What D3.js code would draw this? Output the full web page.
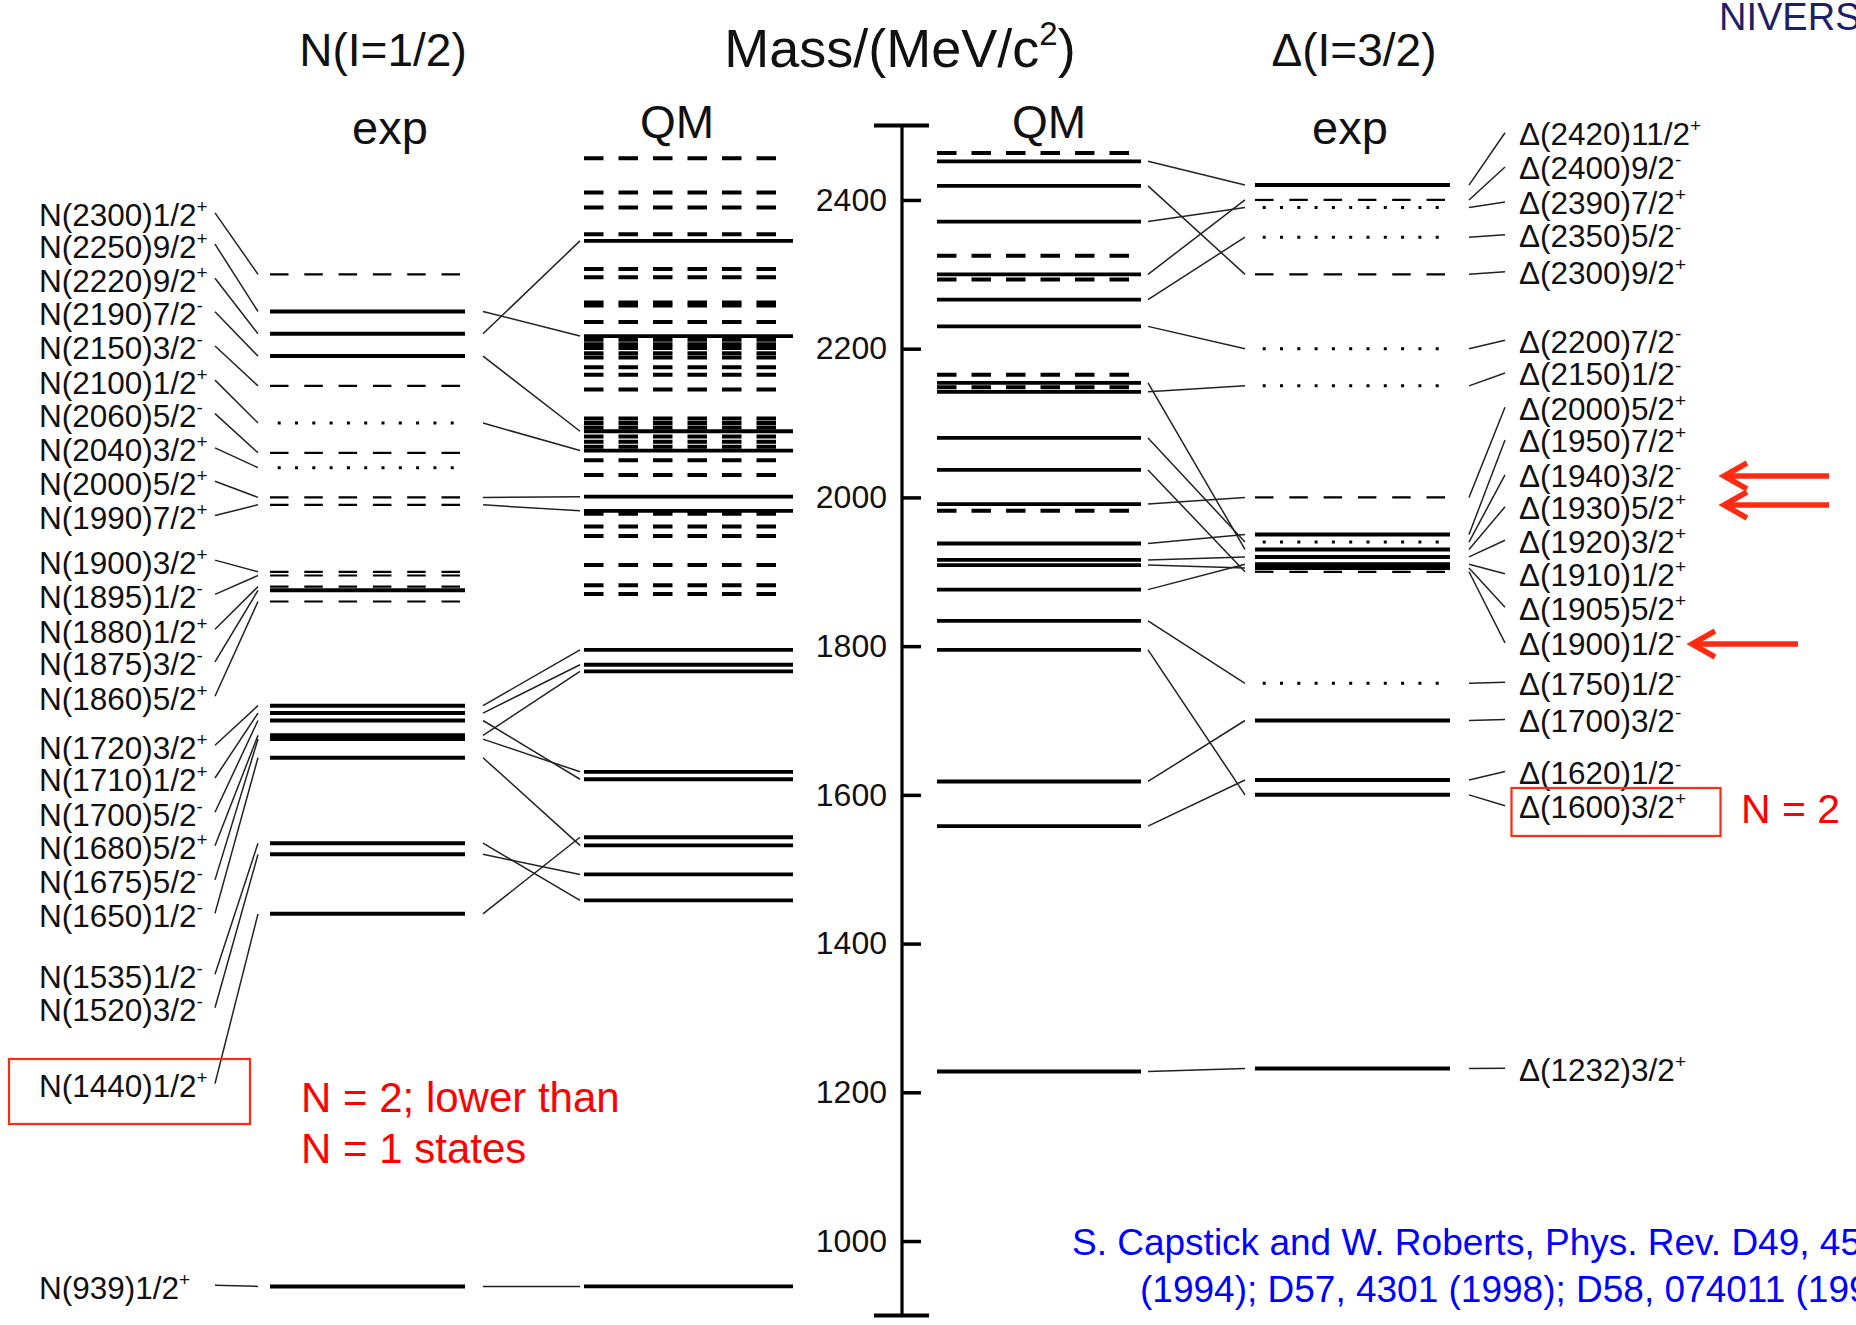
<!DOCTYPE html>
<html>
<head>
<meta charset="utf-8">
<script src="https://cdn.jsdelivr.net/npm/d3@7"></script>
<style>
  html, body { margin: 0; padding: 0; background: #fff; overflow: hidden; }
  svg { display: block; }
  text { font-family: "Liberation Sans", Arial, Helvetica, sans-serif; }
</style>
</head>
<body>
<svg id="chart" width="1856" height="1325"></svg>
<script>
// ---------------- data ----------------
// Nucleon (I=1/2): measured states, J^P, star rating, and the quark-model state each is matched to
const nExpMass  = [2300, 2250, 2220, 2190, 2150, 2100, 2060, 2040, 2000, 1990,
                   1900, 1895, 1880, 1875, 1860, 1720, 1710, 1700, 1680, 1675,
                   1650, 1535, 1520, 1440, 939];
const nExpJP    = ["1/2+", "9/2+", "9/2+", "7/2-", "3/2-", "1/2+", "5/2-", "3/2+", "5/2+", "7/2+",
                   "3/2+", "1/2-", "1/2+", "3/2-", "5/2+", "3/2+", "1/2+", "5/2-", "5/2+", "5/2-",
                   "1/2-", "1/2-", "3/2-", "1/2+", "1/2+"];
const nExpStars = [2, 4, 4, 4, 2, 1, 2, 1, 2, 2,
                   2, 2, 2, 3, 2, 4, 3, 3, 4, 4,
                   4, 4, 4, 4, 4];
const nExpQM    = [null, 2217, 2345, 2089, null, 2063, null, null, 2001, 1982,
                   null, null, null, null, null, 1795, 1775, 1621, 1766, 1631,
                   1532, 1458, 1493, 1543, 939];
// Nucleon quark-model spectrum (Capstick & Roberts)
const nQM = [2456, 2410, 2390, 2354, 2345, 2307, 2296, 2262, 2258, 2236,
             2217, 2212, 2206, 2201, 2194, 2188, 2175, 2165, 2145, 2106,
             2100, 2094, 2089, 2082, 2075, 2068, 2063, 2050, 2030, 2001,
             1982, 1978, 1961, 1948, 1909, 1882, 1870, 1795, 1775, 1766,
             1631, 1621, 1543, 1532, 1493, 1458, 939];

// Delta (I=3/2): measured states, J^P, star rating, matched quark-model state
const dExpMass  = [2420, 2400, 2390, 2350, 2300, 2200, 2150, 2000, 1950, 1940,
                   1930, 1920, 1910, 1905, 1900, 1750, 1700, 1620, 1600, 1232];
const dExpJP    = ["11/2+", "9/2-", "7/2+", "5/2-", "9/2+", "7/2-", "1/2-", "5/2+", "7/2+", "3/2-",
                   "5/2+", "3/2+", "1/2+", "5/2+", "1/2-", "1/2-", "3/2-", "1/2-", "3/2+", "3/2+"];
const dExpStars = [4, 2, 1, 1, 2, 1, 1, 2, 4, 1,
                   3, 3, 4, 4, 2, 1, 4, 4, 3, 4];
const dExpQM    = [2452, 2300, 2371, 2266, 2419, 2230, 2142, 1991, 1938, 2080,
                   2154, 1916, 1876, 1909, 2037, 1834, 1618, 1558, 1795, 1228];
// Delta quark-model spectrum
const dQM = [2463, 2452, 2419, 2371, 2325, 2300, 2293, 2266, 2230, 2165,
             2154, 2148, 2142, 2080, 2037, 1991, 1982, 1938, 1916, 1909,
             1876, 1834, 1795, 1618, 1558, 1228];

// mass axis
const massDomain = [900, 2500];
const massTicks  = [1000, 1200, 1400, 1600, 1800, 2000, 2200, 2400];

// ---------------- layout ----------------
// where each name label sits along the mass axis (labels are spread to stay readable)
const nLabelAt = [2380, 2338, 2292, 2247, 2201, 2155, 2110, 2064, 2019, 1973,
                  1913, 1867, 1820, 1776, 1730, 1664, 1620, 1574, 1529, 1483,
                  1438, 1356, 1311, 1209, 938];
const dLabelAt = [2489, 2443, 2396, 2352, 2302, 2210, 2166, 2120, 2076, 2029,
                  1986, 1941, 1896, 1851, 1803, 1750, 1700, 1630, 1584, 1231];

const col = {
  nLabelX: 39, nLinkL: [215, 258], nExp: [270, 465], nJoin: [483, 580], nQM: [584, 793],
  axisX: 902,
  dQM: [937, 1141], dJoin: [1148, 1245], dExp: [1255, 1450], dLinkR: [1469, 1505], dLabelX: 1519
};

const svg = d3.select("#chart");
const y = d3.scaleLinear().domain(massDomain).range([1315.4, 125.6]);

const ink = "#111";
const linkInk = "#222";

function expStyle(sel, stars) {
  if (stars >= 3) {
    sel.attr("stroke-width", 4);
  } else if (stars === 2) {
    sel.attr("stroke-width", 2.2).attr("stroke-dasharray", "18.5 15.8");
  } else {
    sel.attr("stroke-width", 3).attr("stroke-dasharray", "3 14.3").attr("stroke-dashoffset", 9.6);
  }
}

// ---------- experimental levels ----------
function drawExp(masses, stars, xr) {
  svg.append("g").selectAll("line").data(masses).join("line")
    .attr("x1", xr[0]).attr("x2", xr[1])
    .attr("y1", d => y(d)).attr("y2", d => y(d))
    .attr("stroke", "#000")
    .each(function (d, i) { expStyle(d3.select(this), stars[i]); });
}
drawExp(nExpMass, nExpStars, col.nExp);
drawExp(dExpMass, dExpStars, col.dExp);

// ---------- quark-model levels (matched = solid, unmatched = dashed) ----------
function drawQM(masses, matched, xr) {
  const set = new Set(matched.filter(v => v !== null));
  const gq = svg.append("g");
  // dashed (unobserved) first, solid on top
  gq.selectAll("line.miss").data(masses.filter(m => !set.has(m))).join("line")
    .attr("class", "miss")
    .attr("x1", xr[0]).attr("x2", xr[0] + 193)
    .attr("y1", d => y(d)).attr("y2", d => y(d))
    .attr("stroke", "#000").attr("stroke-width", 4)
    .attr("stroke-dasharray", "19.5 15");
  gq.selectAll("line.hit").data(masses.filter(m => set.has(m))).join("line")
    .attr("class", "hit")
    .attr("x1", xr[0]).attr("x2", xr[1])
    .attr("y1", d => y(d)).attr("y2", d => y(d))
    .attr("stroke", "#000").attr("stroke-width", 3.8);
}
drawQM(nQM, nExpQM, col.nQM);
drawQM(dQM, dExpQM, col.dQM);

// ---------- links between measured and quark-model states ----------
function drawJoins(expM, qmM, xr, expOnLeft) {
  const pairs = expM.map((m, i) => [m, qmM[i]]).filter(p => p[1] !== null);
  svg.append("g").selectAll("line").data(pairs).join("line")
    .attr("x1", xr[0]).attr("x2", xr[1])
    .attr("y1", p => y(expOnLeft ? p[0] : p[1]))
    .attr("y2", p => y(expOnLeft ? p[1] : p[0]))
    .attr("stroke", linkInk).attr("stroke-width", 1.5);
}
drawJoins(nExpMass, nExpQM, col.nJoin, true);
drawJoins(dExpMass, dExpQM, col.dJoin, false);

// ---------- name labels with leader lines ----------
function drawNames(prefix, masses, jps, at, labelX, linkX, labelOnLeft) {
  const gl = svg.append("g");
  gl.selectAll("line").data(masses).join("line")
    .attr("x1", linkX[0]).attr("x2", linkX[1])
    .attr("y1", (d, i) => labelOnLeft ? y(at[i]) - 2 : y(d))
    .attr("y2", (d, i) => labelOnLeft ? y(d) : y(at[i]) - 1)
    .attr("stroke", linkInk).attr("stroke-width", 1.5);
  const t = gl.selectAll("text").data(masses).join("text")
    .attr("x", labelX)
    .attr("y", (d, i) => y(at[i]) + 11.5)
    .attr("font-size", 31.5)
    .attr("fill", ink);
  t.each(function (d, i) {
    const jp = jps[i];
    const s = d3.select(this);
    s.append("tspan").text(prefix + "(" + d + ")" + jp.slice(0, -1));
    s.append("tspan").attr("dy", -13).attr("font-size", 19).text(jp.slice(-1));
  });
}
drawNames("N", nExpMass, nExpJP, nLabelAt, col.nLabelX, col.nLinkL, true);
drawNames("\u0394", dExpMass, dExpJP, dLabelAt, col.dLabelX, col.dLinkR, false);

// ---------- mass axis ----------
const axis = d3.axisLeft(y).tickValues(massTicks).tickSizeInner(-19).tickSizeOuter(0).tickPadding(15)
  .tickFormat(d3.format("d"));
const ga = svg.append("g").attr("transform", `translate(${col.axisX},0)`).call(axis);
ga.select(".domain").remove();
ga.selectAll(".tick line").attr("stroke", "#000").attr("stroke-width", 3.5);
ga.selectAll(".tick text").attr("font-size", 32).attr("fill", ink)
  .attr("font-family", "Liberation Sans, Arial, sans-serif");
ga.append("line").attr("x1", 0).attr("x2", 0).attr("y1", y(massDomain[0])).attr("y2", y(massDomain[1]))
  .attr("stroke", "#000").attr("stroke-width", 3.2);
ga.selectAll("line.cap").data(massDomain).join("line").attr("class", "cap")
  .attr("x1", -28).attr("x2", 27).attr("y1", d => y(d)).attr("y2", d => y(d))
  .attr("stroke", "#000").attr("stroke-width", 4);

// ---------- headings ----------
const head = svg.append("g").attr("fill", ink).attr("text-anchor", "middle");
head.append("text").attr("x", 383).attr("y", 66).attr("font-size", 46).text("N(I=1/2)");
head.append("text").attr("x", 1354).attr("y", 66).attr("font-size", 46).text("\u0394(I=3/2)");
const mt = head.append("text").attr("x", 900).attr("y", 67).attr("font-size", 54);
mt.append("tspan").text("Mass/(MeV/c");
mt.append("tspan").attr("dy", -22).attr("font-size", 33).text("2");
mt.append("tspan").attr("dy", 22).text(")");
head.append("text").attr("x", 390).attr("y", 144).attr("font-size", 47).text("exp");
head.append("text").attr("x", 677).attr("y", 138).attr("font-size", 46).text("QM");
head.append("text").attr("x", 1049).attr("y", 138).attr("font-size", 46).text("QM");
head.append("text").attr("x", 1350).attr("y", 144).attr("font-size", 47).text("exp");

// ---------- annotations ----------
const red = "#ff2a12";
const note = svg.append("g");
note.append("rect").attr("x", 9).attr("y", 1059).attr("width", 241).attr("height", 65)
  .attr("fill", "none").attr("stroke", red).attr("stroke-width", 2.2);
note.append("rect").attr("x", 1511.5).attr("y", 788).attr("width", 209).attr("height", 48)
  .attr("fill", "none").attr("stroke", red).attr("stroke-width", 2.2);
note.append("text").attr("x", 301).attr("y", 1111.5).attr("font-size", 42).attr("fill", "#ff0000")
  .text("N = 2; lower than");
note.append("text").attr("x", 301).attr("y", 1163).attr("font-size", 42).attr("fill", "#ff0000")
  .text("N = 1 states");
note.append("text").attr("x", 1741).attr("y", 823).attr("font-size", 41).attr("fill", "#ff0000")
  .text("N = 2");

const arrows = [[1722, 1829, 476], [1722, 1829, 505], [1690, 1798, 644]];
const ag = note.append("g").attr("stroke", red).attr("fill", "none")
  .attr("stroke-width", 5.5).attr("stroke-linecap", "butt");
arrows.forEach(([tip, tail, ay]) => {
  ag.append("line").attr("x1", tip + 2).attr("x2", tail).attr("y1", ay).attr("y2", ay);
  ag.append("polyline").attr("points", `${tip + 25},${ay - 13} ${tip + 2},${ay} ${tip + 25},${ay + 13}`)
    .attr("stroke-linejoin", "miter");
});

// reference
const cite = svg.append("g").attr("fill", "#0000ff").attr("font-size", 37);
cite.append("text").attr("x", 1072).attr("y", 1255).text("S. Capstick and W. Roberts, Phys. Rev. D49, 4570");
cite.append("text").attr("x", 1140).attr("y", 1302).text("(1994); D57, 4301 (1998); D58, 074011 (1998)");

// corner mark
svg.append("text").attr("x", 1719).attr("y", 30).attr("font-size", 38)
  .attr("font-family", "Liberation Serif, Times New Roman, serif").attr("fill", "#1c2166")
  .text("NIVERS");
</script>
</body>
</html>
